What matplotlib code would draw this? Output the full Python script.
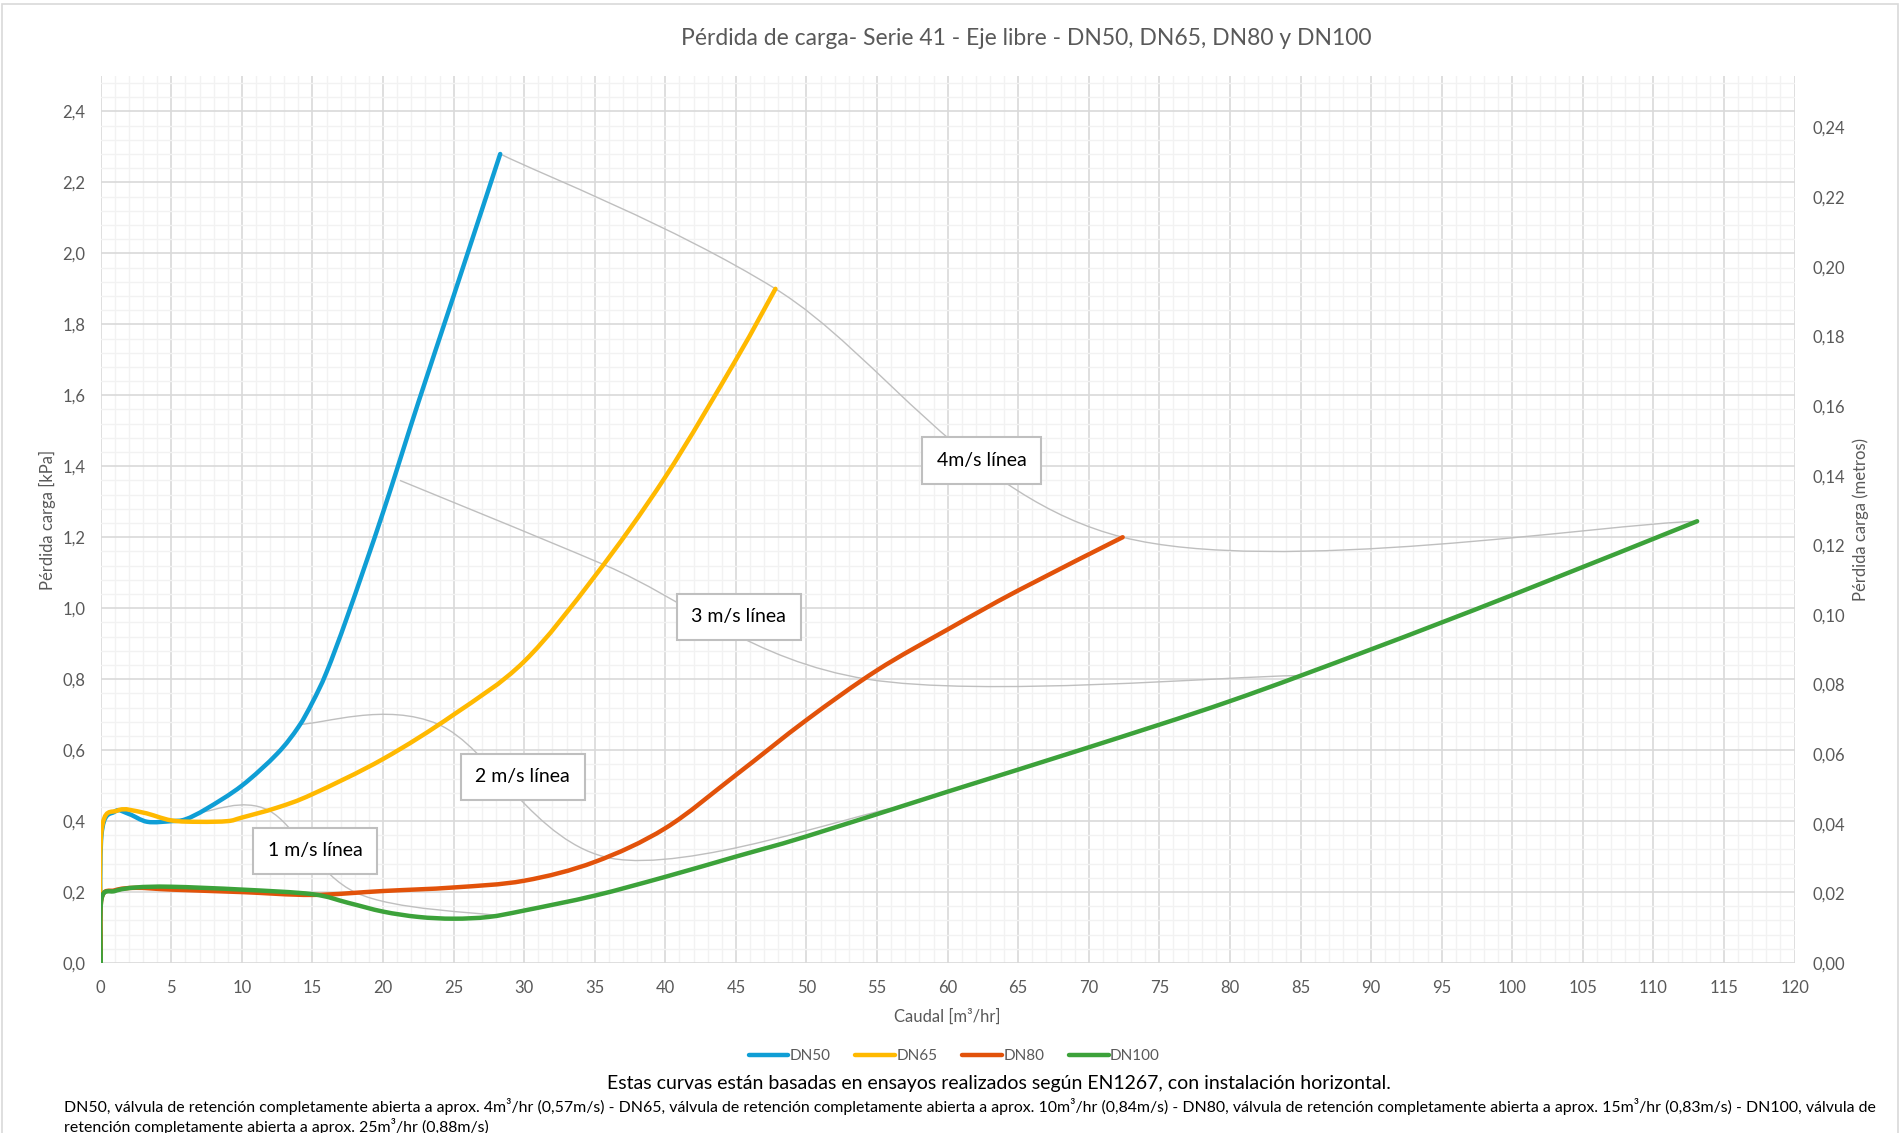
import numpy as np
import matplotlib
matplotlib.use('Agg')
import matplotlib.pyplot as plt
from matplotlib.path import Path
from matplotlib.patches import PathPatch, Rectangle
from matplotlib.lines import Line2D
from matplotlib.ticker import MultipleLocator, FuncFormatter

plt.rcParams['font.family'] = ['Lato', 'DejaVu Sans']

# caudal [m3/hr] y perdida de carga [kPa]
flow_dn50 = [0, 0.05, 1, 2, 3.3, 5, 6, 7.5, 10, 12.5, 14, 15, 16, 17.5, 20, 22.5, 25, 28.3]
loss_dn50 = [0, 0.36, 0.427, 0.42, 0.398, 0.40, 0.405, 0.435, 0.50, 0.59, 0.665, 0.735, 0.82, 0.98, 1.27, 1.58, 1.88, 2.28]

flow_dn65 = [0, 0.05, 1.2, 3, 5, 7, 9, 10, 12.5, 15, 20, 25, 30, 35, 40, 45, 47.8]
loss_dn65 = [0, 0.37, 0.43, 0.424, 0.402, 0.398, 0.40, 0.41, 0.438, 0.476, 0.575, 0.70, 0.85, 1.09, 1.37, 1.70, 1.90]

flow_dn80 = [0, 0.05, 1, 2.5, 5, 10, 15, 20, 25, 30, 35, 40, 45, 50, 55, 60, 65, 72.4]
loss_dn80 = [0, 0.18, 0.205, 0.212, 0.207, 0.2, 0.192, 0.203, 0.213, 0.232, 0.285, 0.38, 0.53, 0.685, 0.825, 0.94, 1.05, 1.20]

flow_dn100 = [0, 0.05, 1, 2.5, 5, 10, 15, 17.5, 20, 22.5, 25, 27.5, 30, 35, 40, 45, 50, 60, 70, 80, 90, 100, 113.1]
loss_dn100 = [0, 0.18, 0.203, 0.213, 0.215, 0.207, 0.194, 0.17, 0.145, 0.13, 0.125, 0.13, 0.148, 0.19, 0.243, 0.30, 0.357, 0.483, 0.608, 0.738, 0.884, 1.037, 1.245]

# lineas de velocidad (un punto por DN)
vel_flow_1 = [7.07, 11.9, 18.1, 28.3]
vel_loss_1 = [0.425, 0.43, 0.198, 0.133]
vel_flow_2 = [14.1, 23.9, 36.2, 56.5]
vel_loss_2 = [0.673, 0.673, 0.295, 0.44]
vel_flow_3 = [21.2, 35.8, 54.3, 84.8]
vel_loss_3 = [1.36, 1.12, 0.80, 0.81]
vel_flow_4 = [28.3, 47.8, 72.4, 113.1]
vel_loss_4 = [2.28, 1.90, 1.20, 1.245]

vel_labels = ['1 m/s línea', '2 m/s línea', '3 m/s línea', '4m/s línea']
vel_label_x = [15.2, 29.9, 45.2, 62.4]
vel_label_y = [0.316, 0.525, 0.976, 1.416]

series_names = ['DN50', 'DN65', 'DN80', 'DN100']
series_colors = ['#0F9ED5', '#FFB900', '#E2520A', '#3CA23A']

KPA_TO_M = 1 / 9.81


def smooth_path(xs, ys):
    # curva suavizada tipo Excel (bezier cubico)
    pts = np.column_stack([xs, ys]).astype(float)
    n = len(pts)
    verts = [pts[0]]
    codes = [Path.MOVETO]
    for i in range(n - 1):
        p0 = pts[i - 1] if i > 0 else pts[i]
        p1 = pts[i]
        p2 = pts[i + 1]
        p3 = pts[i + 2] if i + 2 < n else pts[i + 1]
        verts += [p1 + (p2 - p0) / 6, p2 - (p3 - p1) / 6, p2]
        codes += [Path.CURVE4] * 3
    return Path(verts, codes)


fig = plt.figure(figsize=(19.01, 11.33), dpi=100)
ax = fig.add_axes([0.053, 0.150, 0.891, 0.783])

ax.set_xlim(0, 120)
ax.set_ylim(0, 2.5)
ax.xaxis.set_major_locator(MultipleLocator(5))
ax.xaxis.set_minor_locator(MultipleLocator(1))
ax.yaxis.set_major_locator(MultipleLocator(0.2))
ax.yaxis.set_minor_locator(MultipleLocator(0.04))
ax.yaxis.set_major_formatter(FuncFormatter(lambda v, _: f"{v:.1f}".replace('.', ',')))
ax.grid(which='major', color='#D9D9D9', lw=1.2)
ax.grid(which='minor', color='#F2F2F2', lw=1.0)
ax.set_axisbelow(True)
for s in ax.spines.values():
    s.set_visible(False)
ax.tick_params(which='both', length=0, labelsize=12, labelcolor='#595959')
ax.tick_params(axis='y', pad=11)
ax.tick_params(axis='x', pad=12)

# lineas de velocidad
for fx, fy in [(vel_flow_1, vel_loss_1), (vel_flow_2, vel_loss_2),
               (vel_flow_3, vel_loss_3), (vel_flow_4, vel_loss_4)]:
    ax.add_patch(PathPatch(smooth_path(fx, fy), fill=False, ec='#BFBFBF',
                           lw=1.0, zorder=2))

# curvas
curves = [(flow_dn50, loss_dn50), (flow_dn65, loss_dn65),
          (flow_dn80, loss_dn80), (flow_dn100, loss_dn100)]
for (fx, fy), c in zip(curves, series_colors):
    ax.add_patch(PathPatch(smooth_path(fx, fy), fill=False, ec=c, lw=3.2,
                           capstyle='round', joinstyle='round', zorder=3))

for lab, lx, ly in zip(vel_labels, vel_label_x, vel_label_y):
    ax.text(lx, ly, lab, ha='center', va='center', fontsize=14, color='black',
            zorder=6, bbox=dict(boxstyle='square,pad=0.75', fc='white',
                                ec='#BFBFBF', lw=1.5))

ax.set_xlabel('Caudal [m³/hr]', fontsize=12, color='#595959', labelpad=9.5)
ax.set_ylabel('Pérdida carga [kPa]', fontsize=12, color='#595959', labelpad=5)

ax2 = ax.twinx()
ax2.set_ylim(0, 2.5 * KPA_TO_M)
ax2.yaxis.set_major_locator(MultipleLocator(0.02))
ax2.yaxis.set_major_formatter(FuncFormatter(lambda v, _: f"{v:.2f}".replace('.', ',')))
for s in ax2.spines.values():
    s.set_visible(False)
ax2.tick_params(length=0, labelsize=12, labelcolor='#595959', pad=13)
ax2.set_ylabel('Pérdida carga (metros)', fontsize=12, color='#595959', labelpad=5)

fig.text(0.540, 0.966, 'Pérdida de carga- Serie 41 - Eje libre - DN50, DN65, DN80 y DN100',
         ha='center', va='center', fontsize=16.5, color='#595959')

handles = [Line2D([], [], color=c, lw=3.2, solid_capstyle='round') for c in series_colors]
fig.legend(handles, series_names, loc='center', bbox_to_anchor=(0.502, 0.068),
           ncol=4, frameon=False, fontsize=11, labelcolor='#595959',
           handlelength=2.6, handletextpad=0.1, columnspacing=1.6)

fig.text(0.5255, 0.0433,
         'Estas curvas están basadas en ensayos realizados según EN1267, con instalación horizontal.',
         ha='center', va='center', fontsize=14, color='black')
fig.text(0.0337, 0.023,
         'DN50, válvula de retención completamente abierta a aprox. 4m³/hr (0,57m/s) - DN65, válvula de '
         'retención completamente abierta a aprox. 10m³/hr (0,84m/s) - DN80, válvula de retención completamente '
         'abierta a aprox. 15m³/hr (0,83m/s) - DN100, válvula de',
         ha='left', va='center', fontsize=11.45, color='black')
fig.text(0.0337, 0.006, 'retención completamente abierta a aprox. 25m³/hr (0,88m/s)',
         ha='left', va='center', fontsize=11.45, color='black')

fig.patches.append(Rectangle((0.0008, -0.02), 0.9975, 1.0165, transform=fig.transFigure,
                             fill=False, ec='#D9D9D9', lw=1.2))

fig.savefig('out.png', dpi=100)
